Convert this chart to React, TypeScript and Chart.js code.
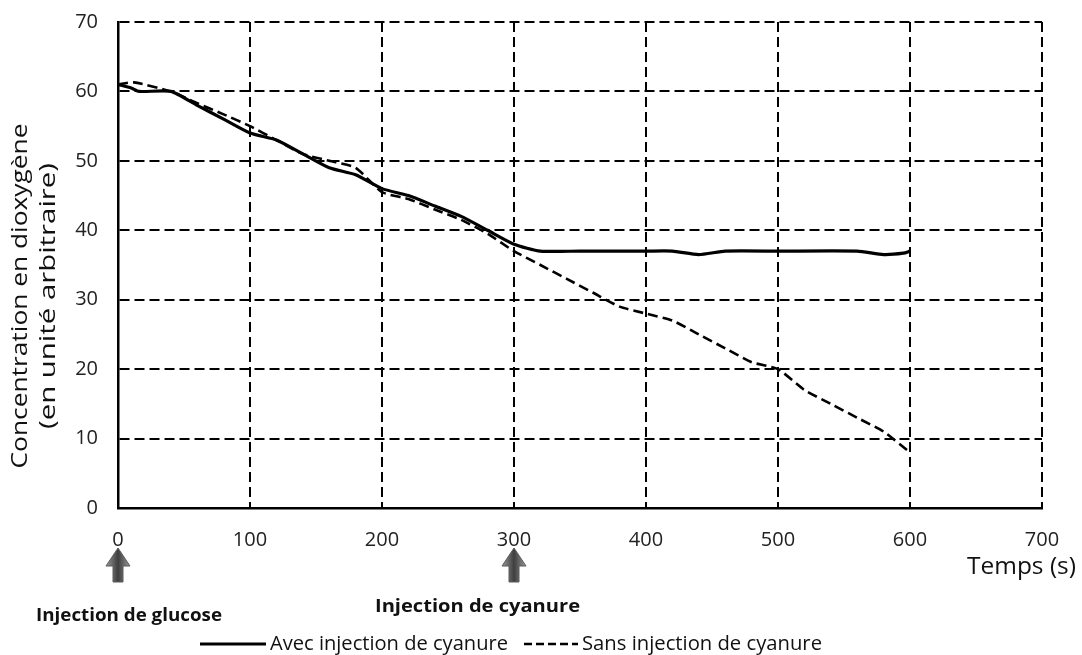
import React, { useEffect, useRef } from 'react';
import { Chart, registerables } from 'chart.js';

Chart.register(...registerables);

// ---- Data ----
const timeAvec = [0, 10, 16, 40, 60, 80, 100, 120, 140, 160, 180, 200, 220, 240, 260, 280, 300, 320, 350, 400, 420, 440, 460, 500, 560, 580, 595, 600];
const valuesAvec = [61, 60.5, 60, 60, 58, 56, 54, 53, 51, 49, 48, 46, 45, 43.5, 42, 40, 38, 37, 37, 37, 37, 36.5, 37, 37, 37, 36.5, 36.7, 37];

const timeSans = [0, 12, 40, 60, 80, 100, 120, 140, 160, 180, 200, 220, 240, 260, 280, 300, 320, 340, 360, 380, 400, 420, 440, 460, 480, 500, 520, 540, 560, 580, 600];
const valuesSans = [61, 61.3, 60, 58.3, 56.7, 55, 53, 51, 50, 49, 45.5, 44.5, 43, 41.5, 39.5, 37, 35, 33, 31, 29, 28, 27, 25, 23, 21, 20, 17, 15, 13, 11, 8];

const xTickValues = [0, 100, 200, 300, 400, 500, 600, 700];
const yTickValues = [0, 10, 20, 30, 40, 50, 60, 70];

const seriesLabels = ['Avec injection de cyanure', 'Sans injection de cyanure'];
const yTitleLines = ['Concentration en dioxygène', '(en unité arbitraire)'];
const xTitle = 'Temps (s)';
const injectionTimes = [0, 300];
const injectionLabels = ['Injection de glucose', 'Injection de cyanure'];

const FONT = "'Open Sans', 'DejaVu Sans', sans-serif";

// draws text at a given font size, squeezed/stretched horizontally to a target width
function drawFitted(
  ctx: CanvasRenderingContext2D,
  text: string,
  x: number,
  y: number,
  width: number,
  size: number,
  weight: string,
  align: 'left' | 'center' | 'right',
  color = '#111'
) {
  ctx.save();
  ctx.font = `${weight} ${size}px ${FONT}`;
  const w = ctx.measureText(text).width;
  const k = width / w;
  ctx.translate(x, y);
  ctx.scale(k, 1);
  ctx.fillStyle = color;
  ctx.textAlign = align;
  ctx.textBaseline = 'middle';
  ctx.fillText(text, 0, 0);
  ctx.restore();
}

function drawArrow(ctx: CanvasRenderingContext2D, x: number, top: number) {
  const headH = 18;
  const headHalf = 12;
  const shaftHalf = 5;
  const bottom = top + 34;
  const g = ctx.createLinearGradient(x - headHalf, 0, x + headHalf, 0);
  g.addColorStop(0, '#9a9a9a');
  g.addColorStop(0.5, '#3e3e3e');
  g.addColorStop(1, '#9a9a9a');
  ctx.save();
  ctx.beginPath();
  ctx.moveTo(x, top);
  ctx.lineTo(x + headHalf, top + headH);
  ctx.lineTo(x + shaftHalf, top + headH);
  ctx.lineTo(x + shaftHalf, bottom);
  ctx.lineTo(x - shaftHalf, bottom);
  ctx.lineTo(x - shaftHalf, top + headH);
  ctx.lineTo(x - headHalf, top + headH);
  ctx.closePath();
  ctx.fillStyle = g;
  ctx.fill();
  ctx.strokeStyle = '#5a5a5a';
  ctx.lineWidth = 1;
  ctx.stroke();
  ctx.restore();
}

const extrasPlugin = {
  id: 'extras',
  afterDraw(chart: any) {
    const ctx: CanvasRenderingContext2D = chart.ctx;
    const xs = chart.scales.x;
    ctx.save();

    // Y axis title (two rotated lines)
    ctx.save();
    ctx.translate(21, 296);
    ctx.rotate(-Math.PI / 2);
    drawFitted(ctx, yTitleLines[0], 0, 0, 345, 22, 'normal', 'center');
    ctx.restore();
    ctx.save();
    ctx.translate(49, 296);
    ctx.rotate(-Math.PI / 2);
    drawFitted(ctx, yTitleLines[1], 0, 0, 266, 22, 'normal', 'center');
    ctx.restore();

    // X axis title
    drawFitted(ctx, xTitle, 1076, 567, 109, 24, 'normal', 'right');

    // Arrows + injection labels
    const px0 = xs.getPixelForValue(injectionTimes[0]);
    const px1 = xs.getPixelForValue(injectionTimes[1]);
    drawArrow(ctx, px0, 548);
    drawArrow(ctx, px1, 548);
    drawFitted(ctx, injectionLabels[0], 36, 616, 186, 18, 'bold', 'left');
    drawFitted(ctx, injectionLabels[1], 375, 607, 205, 18, 'bold', 'left');

    // Legend
    const ly = 644;
    ctx.strokeStyle = '#000';
    ctx.lineWidth = 3;
    ctx.setLineDash([]);
    ctx.beginPath();
    ctx.moveTo(200, ly);
    ctx.lineTo(266, ly);
    ctx.stroke();
    drawFitted(ctx, seriesLabels[0], 270, ly, 238, 20, 'normal', 'left');
    ctx.lineWidth = 2.6;
    ctx.setLineDash([8, 4]);
    ctx.beginPath();
    ctx.moveTo(524, ly);
    ctx.lineTo(578, ly);
    ctx.stroke();
    ctx.setLineDash([]);
    drawFitted(ctx, seriesLabels[1], 582, ly, 240, 20, 'normal', 'left');

    ctx.restore();
  },
};

export default function App() {
  const canvasRef = useRef<HTMLCanvasElement | null>(null);

  useEffect(() => {
    document.body.style.margin = '0';
    const canvas = canvasRef.current;
    if (!canvas) return;
    const chart = new Chart(canvas, {
      type: 'line',
      data: {
        datasets: [
          {
            label: seriesLabels[0],
            data: timeAvec.map((t, i) => ({ x: t, y: valuesAvec[i] })),
            borderColor: '#000',
            borderWidth: 3.2,
            pointRadius: 0,
            tension: 0.2,
            fill: false,
          },
          {
            label: seriesLabels[1],
            data: timeSans.map((t, i) => ({ x: t, y: valuesSans[i] })),
            borderColor: '#000',
            borderWidth: 2.6,
            borderDash: [10, 5],
            pointRadius: 0,
            tension: 0.2,
            fill: false,
          },
        ],
      },
      options: {
        responsive: false,
        animation: false,
        layout: { padding: { top: 22, right: 40, left: 0, bottom: 0 } },
        plugins: { legend: { display: false }, tooltip: { enabled: false } },
        scales: {
          x: {
            type: 'linear',
            min: 0,
            max: 700,
            afterBuildTicks: (s: any) => {
              s.ticks = xTickValues.map((v) => ({ value: v }));
            },
            afterFit: (s: any) => {
              s.height = 147;
              s.paddingLeft = 0;
              s.paddingRight = 0;
            },
            grid: { color: '#000', lineWidth: 2, drawTicks: false },
            border: { display: true, color: '#000', width: 2.5, dash: [10, 5] },
            ticks: { padding: 20, maxRotation: 0, color: '#222', font: { family: FONT, size: 20 } },
          },
          y: {
            type: 'linear',
            min: 0,
            max: 70,
            afterBuildTicks: (s: any) => {
              s.ticks = yTickValues.map((v) => ({ value: v }));
            },
            afterFit: (s: any) => {
              s.width = 118;
              s.paddingTop = 0;
              s.paddingBottom = 0;
            },
            grid: { color: '#000', lineWidth: 2, drawTicks: false },
            border: { display: true, color: '#000', width: 2.5, dash: [10, 5] },
            ticks: { padding: 20, color: '#222', font: { family: FONT, size: 20 } },
          },
        },
      },
      plugins: [extrasPlugin],
    } as any);
    return () => chart.destroy();
  }, []);

  return (
    <div style={{ width: 1082, height: 655, background: '#fff' }}>
      <canvas ref={canvasRef} width={1082} height={655} style={{ display: 'block' }} />
    </div>
  );
}
